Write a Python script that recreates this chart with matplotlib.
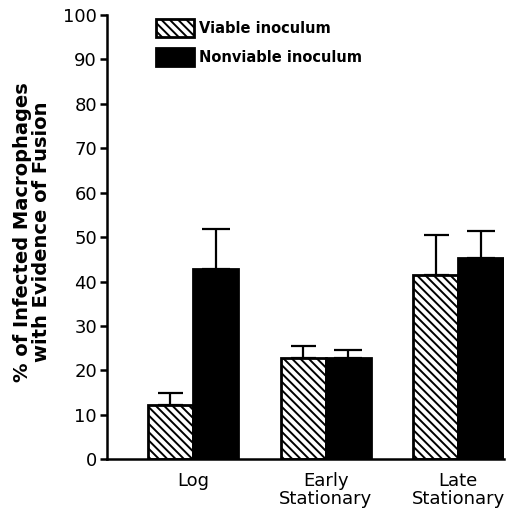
import numpy as np
import matplotlib
matplotlib.use('Agg')
import matplotlib.pyplot as plt
from matplotlib.patches import Patch

# values
phases = ['Log', 'Early\nStationary', 'Late\nStationary']
viable = [12.2, 22.9, 41.4]
viable_err = [2.6, 2.6, 9.0]
nonviable = [42.8, 22.9, 45.2]
nonviable_err = [9.0, 1.6, 6.2]
yticks = [0, 10, 20, 30, 40, 50, 60, 70, 80, 90, 100]

plt.rcParams['font.family'] = 'DejaVu Sans'
plt.rcParams['hatch.linewidth'] = 1.4

fig = plt.figure(figsize=(5.16, 5.16), dpi=100)
ax = fig.add_axes([0.207, 0.110, 0.770, 0.861])

x = np.arange(len(phases))
w = 0.34

ax.bar(x - w / 2, viable, w, color='white', edgecolor='black', hatch='\\\\\\\\',
       linewidth=2, zorder=2)
ax.bar(x + w / 2, nonviable, w, color='black', edgecolor='black',
       linewidth=2, zorder=2)

ax.errorbar(x - w / 2, viable, yerr=[np.zeros(3), viable_err], fmt='none',
            ecolor='black', elinewidth=1.6, capsize=9, capthick=1.6, zorder=1)
ax.errorbar(x + w / 2, nonviable, yerr=[np.zeros(3), nonviable_err], fmt='none',
            ecolor='black', elinewidth=1.6, capsize=10, capthick=1.6, zorder=1)

ax.set_xlim(-0.65, 2.345)
ax.set_ylim(0, 100)
ax.set_yticks(yticks)
ax.set_xticks(x)
ax.set_xticklabels(phases, fontsize=13, linespacing=1.0)
ax.tick_params(axis='x', length=0, pad=9)
ax.tick_params(axis='y', length=5, width=1.8, pad=2, labelsize=13)

for s in ['top', 'right']:
    ax.spines[s].set_visible(False)
ax.spines['left'].set_linewidth(1.8)
ax.spines['bottom'].set_linewidth(1.8)

fig.text(0.062, 0.55, '% of Infected Macrophages\nwith Evidence of Fusion',
         rotation=90, ha='center', va='center', fontsize=14,
         fontweight='bold', multialignment='center', linespacing=1.05)

handles = [Patch(facecolor='white', edgecolor='black', hatch='\\\\\\\\', linewidth=2),
           Patch(facecolor='black', edgecolor='black', linewidth=2)]
ax.legend(handles, ['Viable inoculum', 'Nonviable inoculum'],
          loc='upper left', bbox_to_anchor=(0.09, 1.02), frameon=False,
          prop={'size': 10.5, 'weight': 'bold'}, handlelength=2.6,
          handleheight=1.5, handletextpad=0.4, labelspacing=0.75)

fig.savefig('out.png', dpi=100)
